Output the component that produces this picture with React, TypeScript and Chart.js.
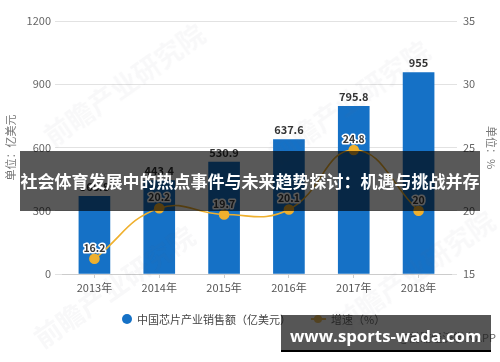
import React, { useEffect, useRef } from "react";
import { Chart, registerables } from "chart.js";

Chart.register(...registerables);

const categories = ["2013年", "2014年", "2015年", "2016年", "2017年", "2018年"];
const sales = [368.8, 443.4, 530.9, 637.6, 795.8, 955];
const growth = [16.2, 20.2, 19.7, 20.1, 24.8, 20];
const salesLabels = ["368.8", "443.4", "530.9", "637.6", "795.8", "955"];
const growthLabels = ["16.2", "20.2", "19.7", "20.1", "24.8", "20"];
const seriesNames = ["中国芯片产业销售额（亿美元）", "增速（%）"];
const leftAxisTitle = "单位：亿美元";
const rightAxisTitle = "单位：%";
const bannerText = "社会体育发展中的热点事件与未来趋势探讨：机遇与挑战并存";
const footerText = "www.sports-wada.com";
const sourceText = "@前瞻经济学人APP";
const watermarkText = "前瞻产业研究院";

const BLUE = "#1571C6";
const GOLD = "#EFB02E";
const GRID = "#E2E2E2";
const FONT = "'Noto Sans CJK SC', 'Noto Sans', sans-serif";

const valueLabels = {
  id: "valueLabels",
  afterDatasetsDraw(chart: any) {
    const ctx = chart.ctx;
    ctx.save();
    ctx.textAlign = "center";
    const barMeta = chart.getDatasetMeta(0);
    ctx.font = `bold 11px ${FONT}`;
    ctx.fillStyle = "#333333";
    ctx.textBaseline = "bottom";
    barMeta.data.forEach((el: any, i: number) => {
      ctx.fillText(salesLabels[i], el.x, el.y - 4);
    });
    const lineMeta = chart.getDatasetMeta(1);
    ctx.font = `bold 10.5px ${FONT}`;
    ctx.textBaseline = "middle";
    ctx.lineJoin = "round";
    lineMeta.data.forEach((el: any, i: number) => {
      ctx.lineWidth = 3;
      ctx.strokeStyle = "#ffffff";
      ctx.strokeText(growthLabels[i], el.x, el.y - 11);
      ctx.fillStyle = "#3a3a3a";
      ctx.fillText(growthLabels[i], el.x, el.y - 11);
    });
    ctx.restore();
  },
};

export default function App() {
  const canvasRef = useRef<HTMLCanvasElement | null>(null);

  useEffect(() => {
    document.body.style.margin = "0";
    const canvas = canvasRef.current;
    if (!canvas) return;
    const chart = new Chart(canvas, {
      type: "bar",
      data: {
        labels: categories,
        datasets: [
          {
            type: "bar",
            label: seriesNames[0],
            data: sales,
            backgroundColor: BLUE,
            barThickness: 31,
            yAxisID: "y",
            order: 1,
          } as any,
          {
            type: "line",
            label: seriesNames[1],
            data: growth,
            borderColor: GOLD,
            backgroundColor: GOLD,
            borderWidth: 1.6,
            tension: 0.45,
            pointRadius: 4.5,
            pointBackgroundColor: GOLD,
            pointBorderColor: GOLD,
            yAxisID: "y1",
            order: 0,
          } as any,
        ],
      },
      options: {
        responsive: false,
        animation: false,
        devicePixelRatio: 1,
        layout: { padding: { top: 21, left: 0, right: 0, bottom: 0 } },
        plugins: {
          legend: { display: false },
          tooltip: { enabled: false },
          title: { display: false },
        },
        scales: {
          x: {
            afterFit: (s: any) => {
              s.height = 88;
            },
            grid: {
              offset: false,
              drawOnChartArea: false,
              drawTicks: true,
              tickLength: 4,
              color: "#CCCCCC",
            },
            border: { display: true, color: "#CCCCCC" },
            ticks: {
              color: "#555555",
              font: { family: FONT, size: 11 },
              padding: 3,
            },
          },
          y: {
            position: "left",
            min: 0,
            max: 1200,
            afterFit: (s: any) => {
              s.width = 62;
            },
            ticks: {
              stepSize: 300,
              color: "#666666",
              font: { family: FONT, size: 11 },
              padding: 4,
              callback: (v: any) => String(v),
            },
            grid: { color: GRID, drawTicks: true, tickLength: 7 },
            border: { display: false },
            title: {
              display: true,
              text: leftAxisTitle,
              color: "#777777",
              font: { family: FONT, size: 11 },
              padding: { top: 4, bottom: 0 },
            },
          },
          y1: {
            position: "right",
            min: 15,
            max: 35,
            afterFit: (s: any) => {
              s.width = 49;
            },
            ticks: {
              stepSize: 5,
              color: "#666666",
              font: { family: FONT, size: 11 },
              padding: 6,
              callback: (v: any) => String(v),
            },
            grid: {
              drawOnChartArea: false,
              drawTicks: true,
              tickLength: 6,
              color: GRID,
            },
            border: { display: false },
            title: {
              display: true,
              text: rightAxisTitle,
              color: "#777777",
              font: { family: FONT, size: 11 },
              padding: { top: 2, bottom: 0 },
            },
          },
        },
      } as any,
      plugins: [valueLabels],
    });
    return () => chart.destroy();
  }, []);

  const wm = (cx: number, cy: number) => (
    <div
      style={{
        position: "absolute",
        left: cx - 90,
        top: cy - 16,
        width: 180,
        textAlign: "center",
        transform: "rotate(-35deg)",
        fontFamily: FONT,
        fontWeight: 700,
        fontSize: 27,
        color: "rgba(90,100,120,0.045)",
        whiteSpace: "nowrap",
        pointerEvents: "none",
      }}
    >
      {watermarkText}
    </div>
  );

  return (
    <div
      style={{
        position: "relative",
        width: 500,
        height: 362,
        background: "#ffffff",
        overflow: "hidden",
      }}
    >
      <canvas
        ref={canvasRef}
        width={500}
        height={362}
        style={{ position: "absolute", left: 0, top: 0, width: 500, height: 362 }}
      />
      {wm(120, 83)}
      {wm(345, 100)}
      {wm(110, 285)}
      {wm(410, 270)}
      {/* legend */}
      <div
        style={{
          position: "absolute",
          left: 122,
          top: 314,
          width: 10,
          height: 10,
          borderRadius: "50%",
          background: BLUE,
        }}
      />
      <div
        style={{
          position: "absolute",
          left: 137,
          top: 311,
          fontFamily: FONT,
          fontSize: 11,
          lineHeight: "16px",
          color: "#444444",
          whiteSpace: "nowrap",
        }}
      >
        {seriesNames[0]}
      </div>
      <div
        style={{
          position: "absolute",
          left: 311,
          top: 318,
          width: 15,
          height: 2,
          background: GOLD,
        }}
      />
      <div
        style={{
          position: "absolute",
          left: 314,
          top: 315,
          width: 8,
          height: 8,
          borderRadius: "50%",
          background: GOLD,
        }}
      />
      <div
        style={{
          position: "absolute",
          left: 331,
          top: 311,
          fontFamily: FONT,
          fontSize: 11,
          lineHeight: "16px",
          color: "#444444",
          whiteSpace: "nowrap",
        }}
      >
        {seriesNames[1]}
      </div>
      {/* source text */}
      <div
        style={{
          position: "absolute",
          right: 4,
          top: 329,
          fontFamily: FONT,
          fontSize: 11,
          lineHeight: "16px",
          color: "#666666",
          whiteSpace: "nowrap",
        }}
      >
        {sourceText}
      </div>
      {/* banner overlay */}
      <div
        style={{
          position: "absolute",
          left: 20,
          top: 151,
          width: 460,
          height: 60,
          background: "rgba(0,0,0,0.65)",
          color: "#ffffff",
          fontFamily: FONT,
          fontWeight: 700,
          fontSize: 17,
          lineHeight: "60px",
          textAlign: "center",
          whiteSpace: "nowrap",
          letterSpacing: 0,
        }}
      >
        {bannerText}
      </div>
      {/* footer overlay */}
      <div
        style={{
          position: "absolute",
          left: 281,
          top: 315,
          width: 210,
          height: 37,
          boxSizing: "border-box",
          background: "rgba(30,30,30,0.75)",
          borderBottom: "2px solid #000000",
          color: "#ffffff",
          fontFamily: "'Open Sans', 'Noto Sans', sans-serif",
          fontWeight: 700,
          fontSize: 16.8,
          lineHeight: "42px",
          paddingLeft: 9,
          whiteSpace: "nowrap",
          overflow: "hidden",
        }}
      >
        {footerText}
      </div>
    </div>
  );
}
